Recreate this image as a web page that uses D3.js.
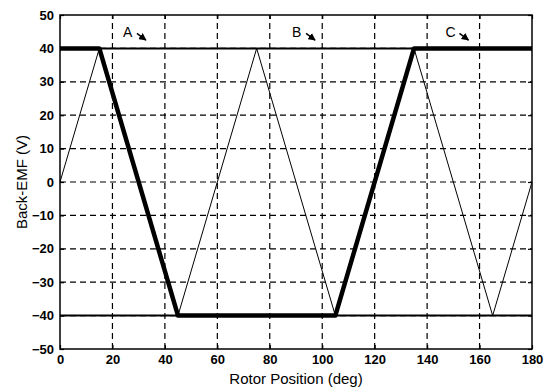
<!DOCTYPE html>
<meta charset="utf-8">
<style>
body { margin: 0; background: #fff; }
text { font-family: Arial, "Liberation Sans", sans-serif; fill: #000; }
.tick text { font-weight: bold; }
.grid line { stroke: #000; stroke-width: 1.2; stroke-dasharray: 6,4; }
</style>
<svg width="552" height="387"></svg>
<script src="https://d3js.org/d3.v7.min.js"></script>
<script>
// data (deg, V)
var xTicks = [0, 20, 40, 60, 80, 100, 120, 140, 160, 180];
var yTicks = [-50, -40, -30, -20, -10, 0, 10, 20, 30, 40, 50];
var thickDeg = [0, 15, 45, 105, 135, 180];
var thickVal = [40, 40, -40, -40, 40, 40];
var triDeg = [0, 15, 45, 75, 105, 135, 165, 180];
var triVal = [0, 40, -40, 40, -40, 40, -40, 0];
var flatDeg = [0, 180];
var flatTop = [40, 40];
var flatBot = [-40, -40];
var labels = [{t: "A", x: 24}, {t: "B", x: 88.5}, {t: "C", x: 147}];

var svg = d3.select("svg"),
    margin = {left: 60, top: 15, right: 20, bottom: 38},
    W = 552 - margin.left - margin.right,
    H = 387 - margin.top - margin.bottom;

var x = d3.scaleLinear().domain([0, 180]).range([margin.left, margin.left + W]);
var y = d3.scaleLinear().domain([-50, 50]).range([margin.top + H, margin.top]);

// grid
var grid = svg.append("g").attr("class", "grid");
grid.selectAll(".vx").data(xTicks.slice(1, -1)).enter().append("line")
    .attr("x1", x).attr("x2", x).attr("y1", y(-50)).attr("y2", y(50));
grid.selectAll(".hy").data(yTicks.slice(1, -1)).enter().append("line")
    .attr("x1", x(0)).attr("x2", x(180)).attr("y1", y).attr("y2", y);

function pts(xs, ys) { return xs.map(function(d, i) { return [d, ys[i]]; }); }
var line = d3.line().x(function(d) { return x(d[0]); }).y(function(d) { return y(d[1]); });

svg.append("path").attr("d", line(pts(flatDeg, flatTop))).attr("fill", "none").attr("stroke", "#000").attr("stroke-width", 2);
svg.append("path").attr("d", line(pts(flatDeg, flatBot))).attr("fill", "none").attr("stroke", "#000").attr("stroke-width", 2);
svg.append("path").attr("d", line(pts(triDeg, triVal))).attr("fill", "none").attr("stroke", "#000").attr("stroke-width", 1);
svg.append("path").attr("d", line(pts(thickDeg, thickVal))).attr("fill", "none").attr("stroke", "#000").attr("stroke-width", 4.5).attr("stroke-linejoin", "round");

// axes
svg.append("g").attr("transform", "translate(0," + y(-50) + ")")
    .call(d3.axisBottom(x).tickValues(xTicks).tickSize(-4).tickPadding(6))
    .call(function(g) { g.select(".domain").remove(); g.selectAll("text").attr("font-size", 13); });
svg.append("g").attr("transform", "translate(0," + y(50) + ")")
    .call(d3.axisTop(x).tickValues(xTicks).tickSize(-4).tickFormat(""))
    .call(function(g) { g.select(".domain").remove(); });
svg.append("g").attr("transform", "translate(" + x(0) + ",0)")
    .call(d3.axisLeft(y).tickValues(yTicks).tickSize(-4).tickPadding(6))
    .call(function(g) { g.select(".domain").remove(); g.selectAll("text").attr("font-size", 13); });
svg.append("g").attr("transform", "translate(" + x(180) + ",0)")
    .call(d3.axisRight(y).tickValues(yTicks).tickSize(-4).tickFormat(""))
    .call(function(g) { g.select(".domain").remove(); });
svg.selectAll(".tick line").attr("stroke", "#000").attr("stroke-width", 1.2);

svg.append("rect").attr("x", x(0)).attr("y", y(50)).attr("width", W).attr("height", H)
    .attr("fill", "none").attr("stroke", "#000").attr("stroke-width", 1.5);

// titles
svg.append("text").attr("x", x(90)).attr("y", 384).attr("text-anchor", "middle")
    .attr("font-size", 15).text("Rotor Position (deg)");
svg.append("text").attr("transform", "translate(27," + y(0) + ") rotate(-90)")
    .attr("text-anchor", "middle").attr("font-size", 15).text("Back-EMF (V)");

// annotations
svg.append("defs").append("marker").attr("id", "ah").attr("viewBox", "0 0 10 10")
    .attr("refX", 9).attr("refY", 5).attr("markerWidth", 5).attr("markerHeight", 5).attr("orient", "auto")
    .append("path").attr("d", "M0,0L10,5L0,10z").attr("fill", "#000");
labels.forEach(function(l) {
  svg.append("text").attr("x", x(l.x)).attr("y", y(45) + 5).attr("font-size", 14).text(l.t);
  svg.append("line").attr("x1", x(l.x) + 14).attr("y1", y(44.5)).attr("x2", x(l.x) + 23).attr("y2", y(42.5))
      .attr("stroke", "#000").attr("stroke-width", 1.5).attr("marker-end", "url(#ah)");
});
</script>
